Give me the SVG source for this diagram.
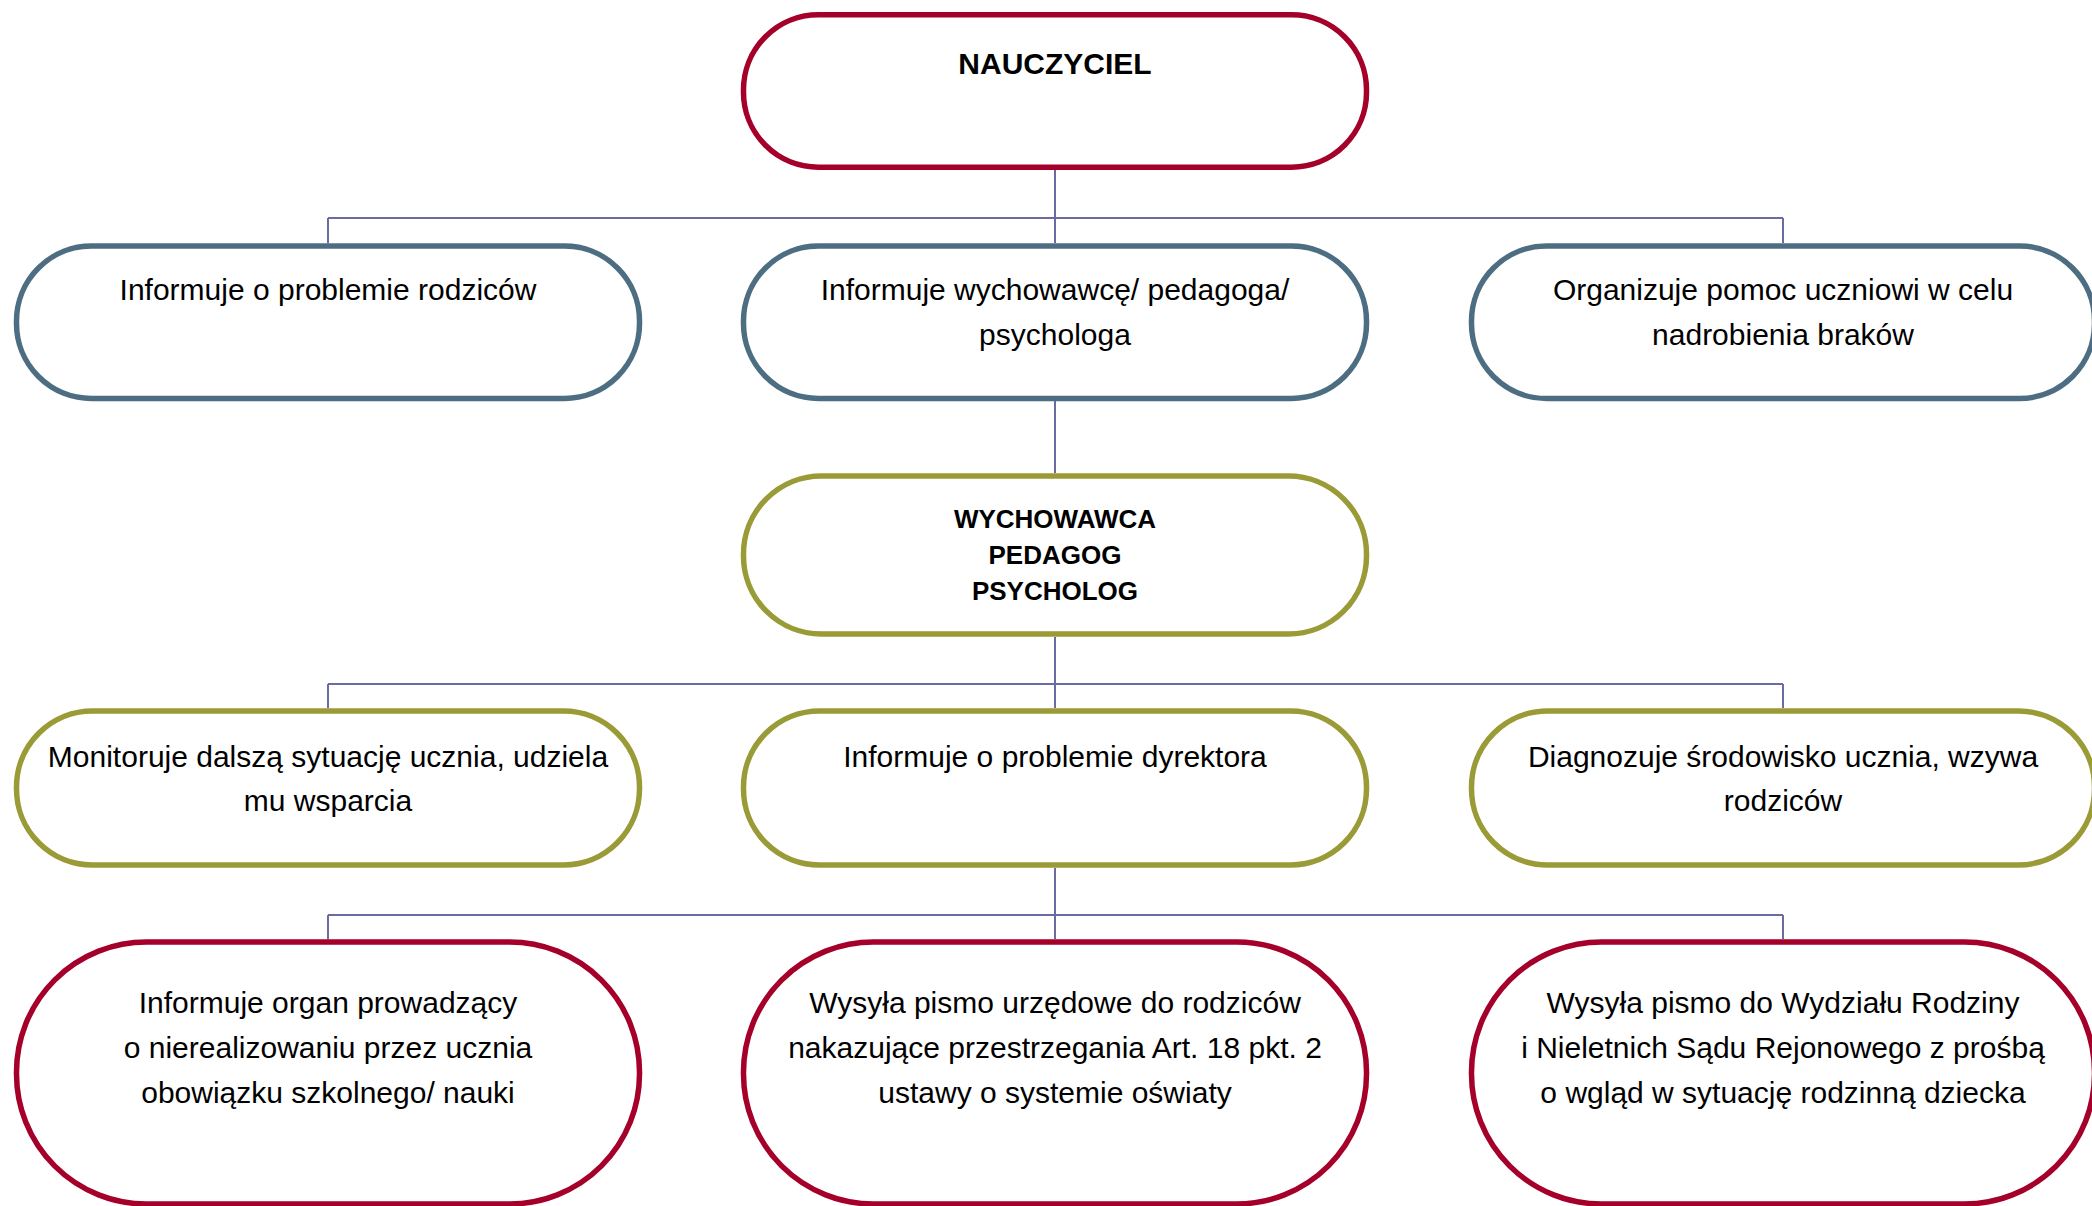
<svg xmlns="http://www.w3.org/2000/svg" width="2092" height="1206" viewBox="0 0 2092 1206">
<style>
.box{fill:#ffffff;stroke-width:5.5}
.red{stroke:#A5002A}
.blue{stroke:#4D6E82}
.olive{stroke:#9A9A37}
.t{font-family:"Liberation Sans",Arial,sans-serif;font-size:30px;fill:#000;text-anchor:middle}
.b{font-family:"Liberation Sans",Arial,sans-serif;font-weight:bold;fill:#000;text-anchor:middle}
.conn{fill:none;stroke:#6B6BA3;stroke-width:2}
</style>
<rect width="2092" height="1206" fill="#ffffff"/>
<g id="connectors" class="conn">
<path d="M1055 170 V218 M328 218 H1783 M328 218 V243 M1055 218 V243 M1783 218 V243"/>
<path d="M1055 401 V473"/>
<path d="M1055 637 V684 M328 684 H1783 M328 684 V708 M1055 684 V708 M1783 684 V708"/>
<path d="M1055 868 V915 M328 915 H1783 M328 915 V939 M1055 915 V939 M1783 915 V939"/>
</g>
<g id="n-nauczyciel">
<rect class="box red" x="743.5" y="14.75" width="623" height="152.5" rx="75" ry="75"/>
<text class="b" x="1055" y="74" font-size="30">NAUCZYCIEL</text>
</g>
<g id="n-rodzicow">
<rect class="box blue" x="16.5" y="246" width="623" height="152.5" rx="75" ry="75"/>
<text class="t" x="328" y="300">Informuje o problemie rodziców</text>
</g>
<g id="n-wychowawce">
<rect class="box blue" x="743.5" y="246" width="623" height="152.5" rx="75" ry="75"/>
<text class="t" x="1055" y="300">Informuje wychowawcę/ pedagoga/</text>
<text class="t" x="1055" y="345">psychologa</text>
</g>
<g id="n-pomoc">
<rect class="box blue" x="1471.5" y="246" width="623" height="152.5" rx="75" ry="75"/>
<text class="t" x="1783" y="300">Organizuje pomoc uczniowi w celu</text>
<text class="t" x="1783" y="345">nadrobienia braków</text>
</g>
<g id="n-wychowawca">
<rect class="box olive" x="743.5" y="476" width="623" height="158" rx="78" ry="78"/>
<text class="b" x="1055" y="528" font-size="26">WYCHOWAWCA</text>
<text class="b" x="1055" y="564" font-size="26">PEDAGOG</text>
<text class="b" x="1055" y="600" font-size="26">PSYCHOLOG</text>
</g>
<g id="n-monitoruje">
<rect class="box olive" x="16.5" y="711" width="623" height="154" rx="76" ry="76"/>
<text class="t" x="328" y="767">Monitoruje dalszą sytuację ucznia, udziela</text>
<text class="t" x="328" y="811">mu wsparcia</text>
</g>
<g id="n-dyrektora">
<rect class="box olive" x="743.5" y="711" width="623" height="154" rx="76" ry="76"/>
<text class="t" x="1055" y="767">Informuje o problemie dyrektora</text>
</g>
<g id="n-diagnozuje">
<rect class="box olive" x="1471.5" y="711" width="623" height="154" rx="76" ry="76"/>
<text class="t" x="1783" y="767">Diagnozuje środowisko ucznia, wzywa</text>
<text class="t" x="1783" y="811">rodziców</text>
</g>
<g id="n-organ">
<rect class="box red" x="16.5" y="942" width="623" height="262" rx="130" ry="130"/>
<text class="t" x="328" y="1013">Informuje organ prowadzący</text>
<text class="t" x="328" y="1058">o nierealizowaniu przez ucznia</text>
<text class="t" x="328" y="1103">obowiązku szkolnego/ nauki</text>
</g>
<g id="n-pismo">
<rect class="box red" x="743.5" y="942" width="623" height="262" rx="130" ry="130"/>
<text class="t" x="1055" y="1013">Wysyła pismo urzędowe do rodziców</text>
<text class="t" x="1055" y="1058">nakazujące przestrzegania Art. 18 pkt. 2</text>
<text class="t" x="1055" y="1103">ustawy o systemie oświaty</text>
</g>
<g id="n-sad">
<rect class="box red" x="1471.5" y="942" width="623" height="262" rx="130" ry="130"/>
<text class="t" x="1783" y="1013">Wysyła pismo do Wydziału Rodziny</text>
<text class="t" x="1783" y="1058">i Nieletnich Sądu Rejonowego z prośbą</text>
<text class="t" x="1783" y="1103">o wgląd w sytuację rodzinną dziecka</text>
</g>
</svg>
